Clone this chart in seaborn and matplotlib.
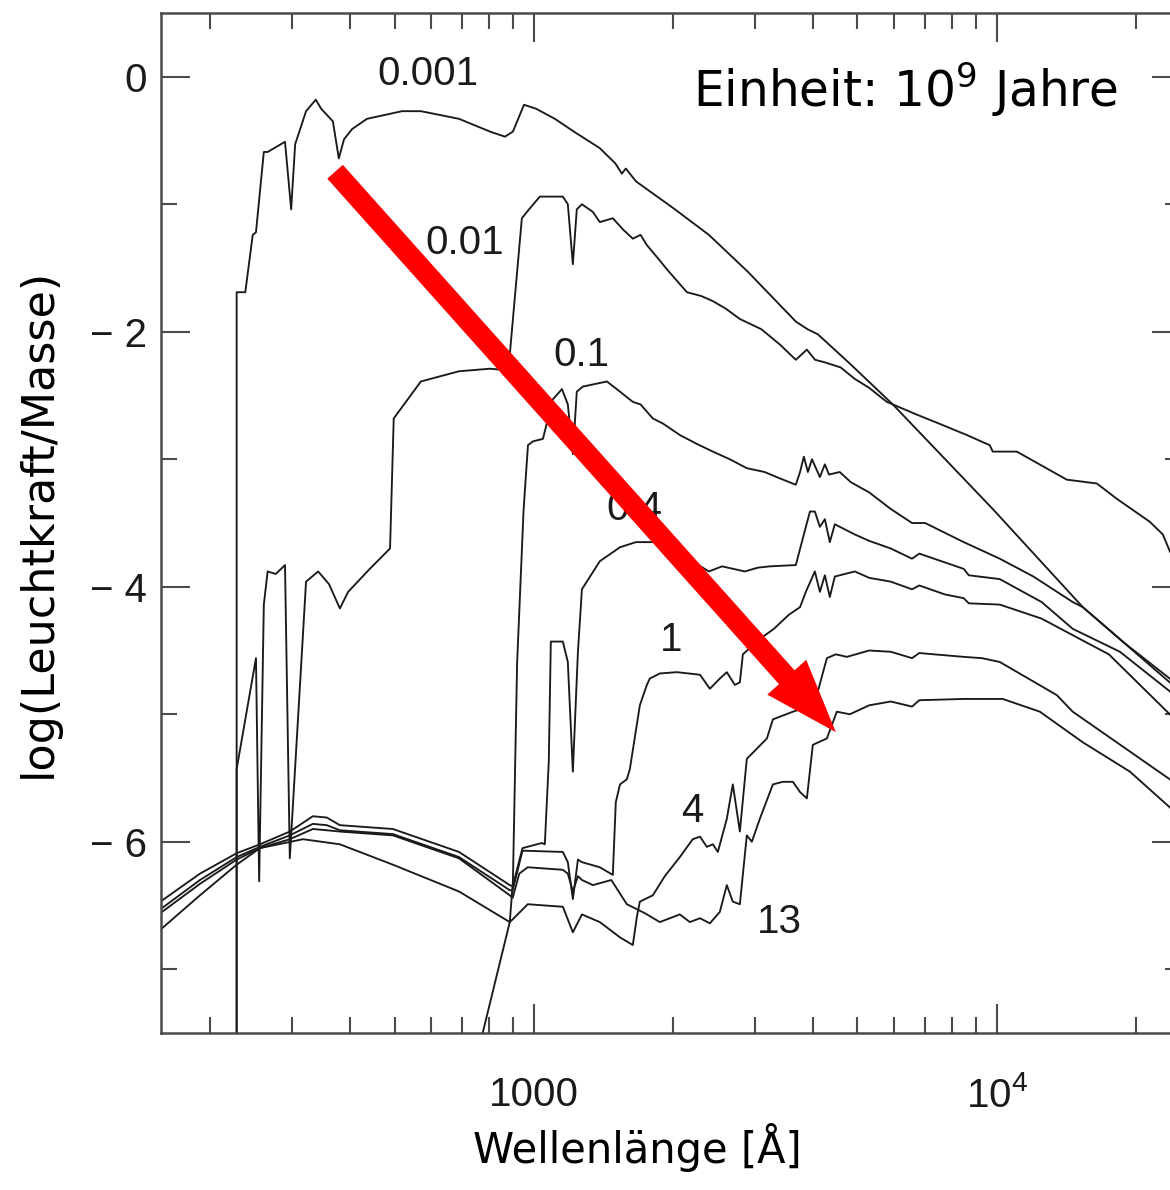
import matplotlib
matplotlib.use("Agg")
import matplotlib.pyplot as plt
from matplotlib.ticker import FixedLocator
import pandas as pd
import seaborn as sns

# Spectra of a single stellar population at different ages (unit: 10^9 years)
ages = ["0.001", "0.01", "0.1", "0.4", "1", "4", "13"]

# wavelength in Angstrom, luminosity as log(L/M)
wl_0001 = [228, 228, 238, 247, 251, 261, 266, 290, 299, 305, 322, 338, 347, 368, 379, 389,
           405, 436, 519, 570, 689, 804, 866, 901, 952, 1010, 1110, 1220, 1388, 1500, 1549,
           1580, 1661, 2000, 2388, 2900, 3680, 3900, 4107, 4815, 5962, 9800, 15340, 23640, 25000]
lum_0001 = [-8.0, -1.69, -1.69, -1.24, -1.22, -0.59, -0.59, -0.51, -1.04, -0.53, -0.27, -0.18,
            -0.25, -0.35, -0.64, -0.49, -0.41, -0.33, -0.27, -0.27, -0.33, -0.43, -0.47, -0.43,
            -0.22, -0.25, -0.33, -0.43, -0.56, -0.68, -0.76, -0.72, -0.82, -1.03, -1.24, -1.53,
            -1.92, -1.98, -2.02, -2.25, -2.57, -3.39, -4.16, -4.75, -4.83]

wl_001 = [228, 228, 251, 255, 261, 266, 277, 290, 297, 322, 342, 361, 381, 397, 442, 489, 498,
          570, 689, 803, 866, 888, 942, 966, 1030, 1155, 1184, 1214, 1238, 1270, 1341, 1388,
          1481, 1560, 1636, 1700, 1754, 1850, 1938, 2141, 2300, 2436, 2600, 2786, 3100, 3399,
          3680, 3888, 4050, 4252, 4600, 4935, 5300, 5787, 6718, 7500, 8614, 9658, 9800, 11046,
          14163, 16444, 18163, 21400, 22840, 23640, 25000]
lum_001 = [-8.0, -5.43, -4.56, -6.31, -4.14, -3.88, -3.90, -3.83, -6.13, -3.96, -3.88, -3.98,
           -4.17, -4.04, -3.86, -3.70, -2.68, -2.39, -2.31, -2.29, -2.30, -2.16, -1.11, -1.06,
           -0.94, -0.94, -1.00, -1.47, -1.04, -1.00, -1.06, -1.14, -1.11, -1.20, -1.27, -1.24,
           -1.32, -1.42, -1.51, -1.69, -1.72, -1.76, -1.82, -1.90, -1.98, -2.10, -2.22, -2.14,
           -2.22, -2.24, -2.28, -2.37, -2.44, -2.55, -2.65, -2.72, -2.81, -2.89, -2.94, -2.94,
           -3.16, -3.19, -3.31, -3.49, -3.59, -3.72, -3.88]

wl_01 = [740, 887, 901, 920, 950, 971, 995, 1046, 1099, 1150, 1184, 1214, 1238, 1276, 1438,
         1535, 1636, 1700, 1807, 1900, 2067, 2250, 2436, 2650, 2884, 3150, 3399, 3680, 3758,
         3830, 3908, 3988, 4148, 4252, 4340, 4578, 4839, 5300, 5902, 6560, 7000, 8485, 10150,
         12000, 14590, 15340, 19000, 23640, 25000]
lum_01 = [-7.8, -6.63, -6.31, -4.60, -3.40, -2.89, -2.86, -2.84, -2.53, -2.45, -2.57, -2.96,
          -2.47, -2.43, -2.39, -2.47, -2.55, -2.57, -2.68, -2.72, -2.81, -2.88, -2.94, -3.00,
          -3.07, -3.10, -3.15, -3.20, -3.10, -2.98, -3.10, -3.00, -3.14, -3.04, -3.12, -3.10,
          -3.18, -3.26, -3.39, -3.50, -3.50, -3.65, -3.78, -3.92, -4.12, -4.16, -4.45, -4.72,
          -4.80]

wl_04 = [156, 190, 228, 256, 297, 333, 357, 381, 496, 689, 887, 900, 945, 1040, 1056, 1077,
         1088, 1155, 1184, 1214, 1245, 1270, 1388, 1535, 1661, 1825, 2067, 2200, 2388, 2550,
         2855, 3050, 3234, 3680, 3830, 3948, 4046, 4148, 4252, 4358, 4468, 4935, 5300, 5902,
         6560, 6800, 8485, 8700, 10150, 12500, 14590, 18450, 23640, 25000]
lum_04 = [-6.47, -6.25, -6.09, -6.02, -5.92, -5.80, -5.81, -5.87, -5.90, -6.08, -6.34, -6.35,
          -6.05, -6.01, -6.02, -5.37, -4.43, -4.43, -4.59, -5.45, -4.51, -4.02, -3.80, -3.69,
          -3.65, -3.65, -3.76, -3.80, -3.88, -3.84, -3.88, -3.85, -3.84, -3.83, -3.59, -3.41,
          -3.41, -3.53, -3.47, -3.65, -3.51, -3.59, -3.64, -3.70, -3.78, -3.74, -3.86, -3.91,
          -3.94, -4.12, -4.33, -4.51, -4.82, -4.90]

wl_1 = [156, 190, 228, 256, 297, 333, 357, 381, 496, 689, 887, 900, 945, 1155, 1184, 1214,
        1245, 1270, 1388, 1481, 1503, 1535, 1588, 1612, 1694, 1754, 1780, 1871, 2037, 2285,
        2400, 2522, 2611, 2717, 2786, 2828, 3077, 3300, 3554, 3758, 3868, 4046, 4148, 4252,
        4358, 4468, 4935, 5300, 5902, 6560, 6800, 7723, 8485, 8700, 10150, 12500, 14590,
        17460, 23640, 25000]
lum_1 = [-6.53, -6.30, -6.12, -6.04, -5.95, -5.86, -5.87, -5.91, -5.94, -6.12, -6.38, -6.38,
         -6.07, -6.08, -6.16, -6.45, -6.14, -6.16, -6.20, -6.26, -5.69, -5.55, -5.51, -5.43,
         -4.93, -4.77, -4.72, -4.68, -4.67, -4.69, -4.80, -4.72, -4.67, -4.77, -4.75, -4.53,
         -4.41, -4.33, -4.22, -4.16, -4.04, -3.88, -4.04, -3.91, -4.08, -3.92, -3.88, -3.93,
         -3.96, -4.02, -3.99, -4.06, -4.09, -4.13, -4.14, -4.25, -4.38, -4.53, -5.00, -5.08]

wl_4 = [156, 190, 228, 256, 317, 381, 496, 689, 887, 905, 970, 1155, 1214, 1270, 1388, 1535,
        1636, 1669, 1694, 1807, 1918, 2067, 2204, 2285, 2364, 2436, 2497, 2611, 2690, 2786,
        2884, 3187, 3284, 3627, 4005, 4107, 4295, 4490, 4742, 5300, 5902, 6560, 6800, 8485,
        9282, 10150, 13480, 14590, 23640, 25000]
lum_4 = [-6.69, -6.42, -6.18, -6.05, -5.98, -6.02, -6.18, -6.39, -6.63, -6.60, -6.49, -6.51,
         -6.71, -6.57, -6.63, -6.75, -6.81, -6.59, -6.47, -6.42, -6.27, -6.12, -5.98, -5.96,
         -6.04, -6.02, -6.08, -5.82, -5.55, -5.92, -5.35, -5.19, -5.04, -4.98, -4.93, -4.82,
         -4.56, -4.53, -4.55, -4.50, -4.51, -4.56, -4.52, -4.55, -4.56, -4.59, -4.85, -4.98,
         -5.51, -5.60]

wl_13 = [156, 190, 228, 256, 297, 333, 357, 381, 496, 689, 887, 900, 930, 970, 1155, 1184,
         1214, 1245, 1270, 1341, 1470, 1588, 1736, 1871, 2067, 2172, 2285, 2400, 2522, 2611,
         2690, 2786, 2884, 2957, 3077, 3284, 3450, 3627, 3758, 3888, 4005, 4295, 4512, 4815,
         5300, 5902, 6560, 6800, 8485, 10300, 12390, 15340, 19390, 23640, 25000]
lum_13 = [-6.56, -6.33, -6.14, -6.05, -5.98, -5.90, -5.91, -5.92, -5.95, -6.13, -6.42, -6.44,
          -6.25, -6.20, -6.22, -6.25, -6.39, -6.27, -6.30, -6.34, -6.30, -6.49, -6.56, -6.63,
          -6.57, -6.63, -6.60, -6.64, -6.55, -6.34, -6.47, -6.49, -5.95, -6.00, -5.82, -5.55,
          -5.53, -5.53, -5.61, -5.66, -5.24, -5.19, -4.98, -5.00, -4.93, -4.90, -4.94, -4.89,
          -4.88, -4.88, -4.98, -5.22, -5.45, -5.73, -5.82]

# Age labels placed next to each spectrum
label_wl = [590, 710, 1270, 1644, 1976, 2194, 3399]
label_lum = [0.02, -1.30, -2.18, -3.39, -4.42, -5.76, -6.63]

# Arrow indicating the ageing of the population
arrow_start = (372, -0.745)
arrow_end = (4490, -5.14)

x_ticks = [1000, 10000]
x_ticklabels = ["1000", r"$\mathregular{10^4}$"]
x_minor = [200, 300, 400, 500, 600, 700, 800, 900, 2000, 3000, 4000, 5000, 6000, 7000, 8000,
           9000, 20000]
y_ticks = [-6, -4, -2, 0]
y_ticklabels = ["\u2212 6", "\u2212 4", "\u2212 2", "0"]
y_minor = [-7, -5, -3, -1]

series = [(ages[0], wl_0001, lum_0001), (ages[1], wl_001, lum_001), (ages[2], wl_01, lum_01),
          (ages[3], wl_04, lum_04), (ages[4], wl_1, lum_1), (ages[5], wl_4, lum_4),
          (ages[6], wl_13, lum_13)]
df = pd.concat(
    [pd.DataFrame({"age": a, "wavelength": w, "logL": l}) for a, w, l in series],
    ignore_index=True,
)

sns.set_style("ticks")
plt.rcParams["font.family"] = ["DejaVu Sans"]
plt.rcParams["text.color"] = "black"
plt.rcParams["axes.labelcolor"] = "black"

W, H = 1170, 1190
fig = plt.figure(figsize=(W / 100, H / 100), dpi=100)
left, right, top, bottom = 161, 1181, 13, 1033
ax = fig.add_axes([left / W, 1 - bottom / H, (right - left) / W, (bottom - top) / H])
ax.set_xscale("log")

sns.lineplot(data=df, x="wavelength", y="logL", units="age", estimator=None, sort=False,
             color="#1a1a1a", linewidth=1.35, ax=ax)

ax.set_xlim(156.5, 25000)
ax.set_ylim(-7.5, 0.5)

helv = "Liberation Sans"
ax.set_xticks(x_ticks)
ax.set_xticklabels(x_ticklabels, fontsize=29, fontfamily=helv, color="#1a1a1a")
ax.xaxis.set_minor_locator(FixedLocator(x_minor))
ax.set_yticks(y_ticks)
ax.set_yticklabels(y_ticklabels, fontsize=29, fontfamily=helv, color="#1a1a1a")
ax.yaxis.set_minor_locator(FixedLocator(y_minor))

spine_col = "#4a4a4a"
for s in ax.spines.values():
    s.set_color(spine_col)
    s.set_linewidth(1.8)
ax.tick_params(which="both", direction="in", top=True, right=True, left=True, bottom=True,
               color=spine_col, width=1.5)
ax.tick_params(which="major", length=21)
ax.tick_params(which="minor", length=11.5)
ax.tick_params(axis="x", which="major", pad=31)
ax.tick_params(axis="y", which="major", pad=10)

ax.set_xlabel("Wellenlänge [Å]", fontsize=30)
ax.set_ylabel("log(Leuchtkraft/Masse)", fontsize=32)
ax.xaxis.set_label_coords((637 - left) / (right - left), -(1148 - bottom) / (bottom - top))
ax.xaxis.label.set_va("center")
ax.yaxis.set_label_coords((38 - left) / (right - left), 0.5)
ax.yaxis.label.set_va("center")

for txt, x, y in zip(ages, label_wl, label_lum):
    ax.text(x, y, txt, fontsize=29, fontfamily=helv, ha="center", va="center",
            color="#1a1a1a", zorder=3)

ax.text((693 - left) / (right - left), 1 - (107 - top) / (bottom - top),
        r"Einheit: $\mathregular{10^9}$ Jahre", transform=ax.transAxes, fontsize=35,
        ha="left", va="baseline", color="black",
        bbox=dict(facecolor="white", edgecolor="none", pad=6), zorder=4)

ax.annotate("", xy=arrow_end, xytext=arrow_start, zorder=10,
            arrowprops=dict(arrowstyle="simple,head_length=53,head_width=37.6,tail_width=15",
                            mutation_scale=1, color="#ff0000", shrinkA=0, shrinkB=0, lw=0))

fig.savefig("out.png", dpi=100, facecolor="white")
